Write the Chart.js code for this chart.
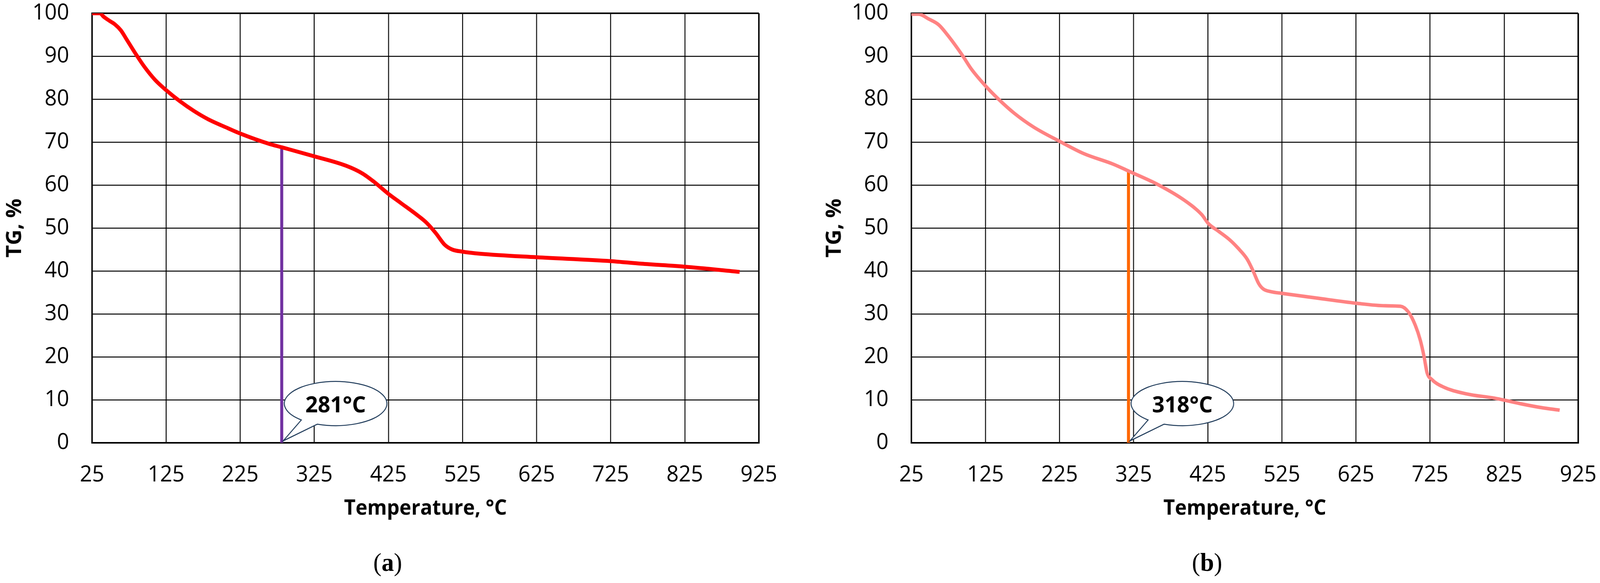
<!DOCTYPE html>
<html>
<head>
<meta charset="utf-8">
<script src="https://cdn.jsdelivr.net/npm/chart.js@4.4.0/dist/chart.umd.min.js"></script>
<style>
  html, body { margin: 0; background: #fff; overflow: hidden; }
  #lienzo { position: absolute; left: 0; top: 0; width: 4259px; height: 1493px; transform-origin: 0 0; }
  canvas { position: absolute; top: 0; }
  #graficaA { left: 0; }
  #graficaB { left: 2130px; }
  .letra { position: absolute; top: 1400px; font-family: 'Liberation Serif', serif; font-size: 66px; line-height: 80px; transform: translateX(-50%); color: #000; }
</style>
</head>
<body>
<div id="lienzo">
<canvas id="graficaA" width="2130" height="1493" style="width:2130px;height:1493px"></canvas>
<canvas id="graficaB" width="2129" height="1493" style="width:2129px;height:1493px"></canvas>
<div class="letra" style="left:1032px">(<b>a</b>)</div>
<div class="letra" style="left:3213px">(<b>b</b>)</div>
</div>
<script>
// Datos (TG vs temperatura)
var tempA = [25, 36, 40, 48, 56, 64, 71, 83, 95, 110, 125, 143, 163, 182, 205, 225, 264, 281, 325, 368, 390, 406, 424, 442, 464, 476, 489, 501, 511, 525, 550, 625, 725, 766, 825, 899];
var tgA   = [100, 100, 99.3, 98.3, 97.4, 96.0, 94.1, 90.8, 87.7, 84.5, 82.1, 79.6, 77.2, 75.3, 73.5, 72.0, 69.6, 68.8, 66.7, 64.5, 62.7, 60.7, 58.1, 55.8, 53.0, 51.3, 48.8, 46.1, 45.0, 44.5, 44.0, 43.2, 42.3, 41.7, 41.0, 39.8];

var tempB = [25, 35, 48, 62, 74, 87, 95, 106, 125, 142, 164, 190, 226, 258, 297, 319, 358, 394, 417, 426, 440, 455, 466, 478, 486, 494, 500, 510, 525, 572, 625, 665, 685, 696, 705, 712, 717, 721, 727, 743, 774, 812, 850, 875, 900];
var tgB   = [99.8, 99.8, 98.7, 97.3, 94.9, 91.9, 89.9, 87.0, 83.1, 80.1, 76.7, 73.5, 70.1, 67.3, 64.9, 63.2, 60.1, 56.4, 53.1, 51.0, 49.2, 47.2, 45.3, 42.8, 40.1, 37.0, 35.8, 35.2, 34.8, 33.7, 32.5, 31.9, 31.8, 30.4, 27.4, 23.8, 20.0, 16.3, 14.8, 13.0, 11.4, 10.4, 9.0, 8.2, 7.6];

// Lineas verticales marcadas (temperatura, altura) y texto del globo
var marcaA = [281, 68.5];
var marcaB = [318, 63.2];
var textoA = "281°C";
var textoB = "318°C";

var xTicks = [25, 125, 225, 325, 425, 525, 625, 725, 825, 925];
var xTickLabels = ["25", "125", "225", "325", "425", "525", "625", "725", "825", "925"];
var yTicks = [0, 10, 20, 30, 40, 50, 60, 70, 80, 90, 100];
var yTickLabels = ["0", "10", "20", "30", "40", "50", "60", "70", "80", "90", "100"];

var fuenteTicks = { family: "'Open Sans', sans-serif", size: 57, lineHeight: 1.2 };

// la ventana real puede ser mas chica que 4259x1493, se escala todo
var sx = window.innerWidth / 4259, sy = window.innerHeight / 1493;
document.getElementById('lienzo').style.transform = 'scale(' + sx + ',' + sy + ')';

function puntos(xs, ys) {
  return xs.map(function (t, i) { return { x: t, y: ys[i] }; });
}

// Globo de texto apuntando a la base de la linea vertical
var globo = {
  id: 'globo',
  afterDatasetsDraw: function (chart) {
    var op = chart.options.plugins.globo;
    var ctx = chart.ctx;
    var px = chart.scales.x.getPixelForValue(op.valor);
    var py = chart.scales.y.getPixelForValue(0);
    var cx = px + 143.5, cy = py - 100.5, rx = 136.5, ry = 56.5;
    var t1 = 111 * Math.PI / 180, t2 = 132 * Math.PI / 180;
    ctx.save();
    ctx.beginPath();
    ctx.moveTo(px + 4, py - 5);
    ctx.lineTo(cx + rx * Math.cos(t1), cy + ry * Math.sin(t1));
    ctx.ellipse(cx, cy, rx, ry, 0, t1, t2, true);
    ctx.closePath();
    ctx.fillStyle = '#fff';
    ctx.fill();
    ctx.lineWidth = 2.5;
    ctx.strokeStyle = '#1f3b5a';
    ctx.stroke();
    ctx.fillStyle = '#000';
    ctx.font = "bold 58px 'Open Sans', sans-serif";
    ctx.textAlign = 'center';
    ctx.textBaseline = 'middle';
    ctx.fillText(op.texto, cx, cy + 6);
    ctx.restore();
  }
};

function grosor(n) {
  return function (c) { return (c.index === 0 || c.index === n - 1) ? 4 : 2.5; };
}

function crearGrafica(id, temps, tgs, colorCurva, anchoCurva, marca, colorMarca, texto, anchoEje, padTitulo, padDerecha) {
  var ctx = document.getElementById(id);
  return new Chart(ctx, {
    type: 'line',
    data: {
      datasets: [
        {
          data: puntos(temps, tgs),
          borderColor: colorCurva,
          borderWidth: anchoCurva,
          pointRadius: 0,
          cubicInterpolationMode: 'monotone',
          fill: false
        },
        {
          data: [{ x: marca[0], y: 0 }, { x: marca[0], y: marca[1] }],
          borderColor: colorMarca,
          borderWidth: 8,
          pointRadius: 0,
          fill: false
        }
      ]
    },
    options: {
      responsive: false,
      animation: false,
      devicePixelRatio: 1,
      layout: { padding: { left: 0, top: 34, right: padDerecha, bottom: 0 } },
      plugins: {
        legend: { display: false },
        tooltip: { enabled: false },
        globo: { valor: marca[0], texto: texto }
      },
      scales: {
        x: {
          type: 'linear',
          min: 25,
          max: 925,
          afterBuildTicks: function (s) { s.ticks = xTicks.map(function (v) { return { value: v }; }); },
          afterFit: function (s) { s.height = 359; s.paddingLeft = 0; s.paddingRight = 0; },
          ticks: {
            font: fuenteTicks, color: '#000', padding: 49, maxRotation: 0, autoSkip: false,
            callback: function (v, i) { return xTickLabels[i]; }
          },
          grid: { color: '#000', lineWidth: grosor(xTicks.length), drawTicks: false },
          border: { color: '#000', width: 4 },
          title: {
            display: true, text: 'Temperature, °C', color: '#000',
            font: { family: "'Open Sans', sans-serif", weight: 'bold', size: 53, lineHeight: 1.2 },
            padding: { top: 0, bottom: 158 }
          }
        },
        y: {
          type: 'linear',
          min: 0,
          max: 100,
          afterBuildTicks: function (s) { s.ticks = yTicks.map(function (v) { return { value: v }; }); },
          afterFit: function (s) { s.width = anchoEje; s.paddingTop = 0; s.paddingBottom = 0; },
          ticks: {
            font: fuenteTicks, color: '#000', padding: 61, autoSkip: false,
            callback: function (v, i) { return yTickLabels[i]; }
          },
          grid: { color: '#000', lineWidth: grosor(yTicks.length), drawTicks: false },
          border: { color: '#000', width: 4 },
          title: {
            display: true, text: 'TG, %', color: '#000',
            font: { family: "'Open Sans', sans-serif", weight: 'bold', size: 55, lineHeight: 1.2 },
            padding: { top: padTitulo, bottom: 0 }
          }
        }
      }
    },
    plugins: [globo]
  });
}

crearGrafica('graficaA', tempA, tgA, '#ff0000', 10, marcaA, '#7030a0', textoA, 245, 7, 110);
crearGrafica('graficaB', tempB, tgB, '#ff8282', 9, marcaB, '#ff6600', textoB, 296, 59, 58);
</script>
</body>
</html>
